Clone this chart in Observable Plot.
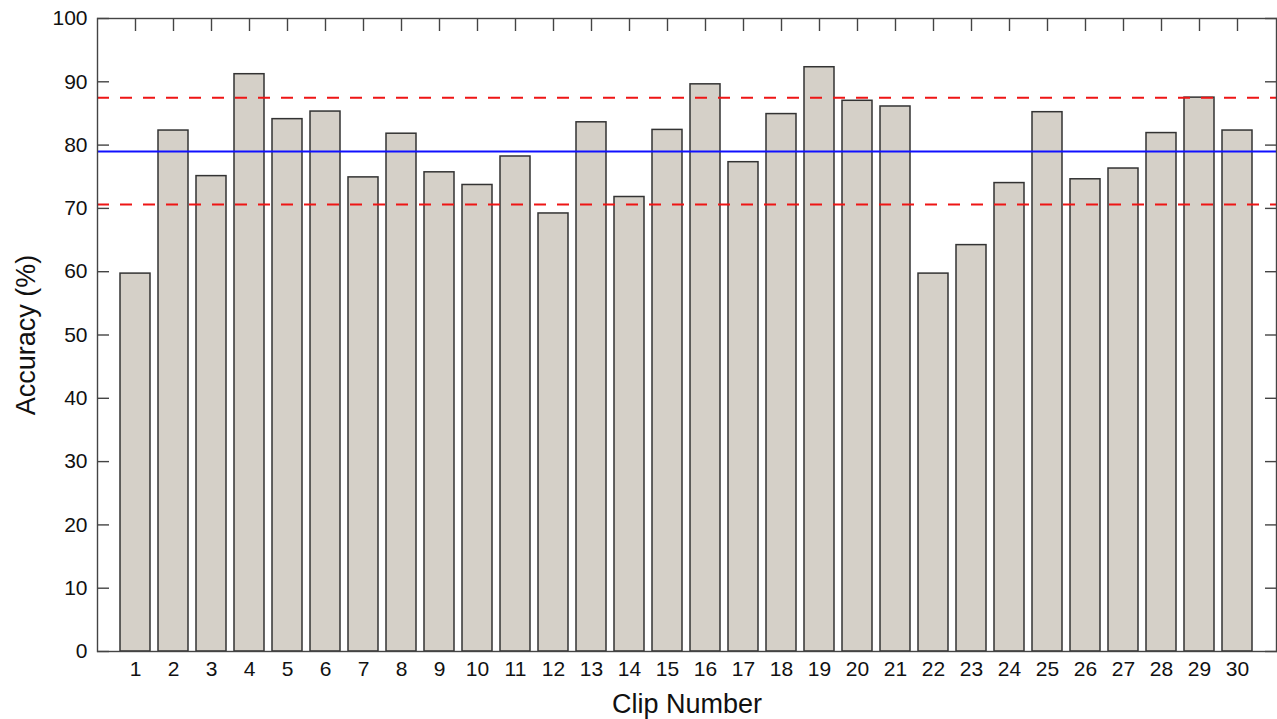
<!DOCTYPE html>
<html>
<head>
<meta charset="utf-8">
<script src="https://cdn.jsdelivr.net/npm/d3@7"></script>
<script src="https://cdn.jsdelivr.net/npm/@observablehq/plot@0.6"></script>
<style>
  html, body { margin: 0; padding: 0; background: #fff; }
  #chart { width: 1277px; height: 719px; }
  svg { font-family: "Liberation Sans", Arial, Helvetica, sans-serif; }
</style>
</head>
<body>
<div id="chart"></div>
<script>
const clips = d3.range(1, 31);
const accuracy = [59.7, 82.3, 75.1, 91.2, 84.1, 85.3, 74.9, 81.8, 75.7, 73.7,
                  78.2, 69.2, 83.6, 71.8, 82.4, 89.6, 77.3, 84.9, 92.3, 87.0,
                  86.1, 59.7, 64.2, 74.0, 85.2, 74.6, 76.3, 81.9, 87.5, 82.3];
const meanLine = [79.0];
const bandLines = [70.6, 87.5];
const yTicks = d3.range(0, 101, 10);

const data = clips.map((c, i) => ({clip: c, acc: accuracy[i]}));

const chart = Plot.plot({
  width: 1277,
  height: 719,
  marginLeft: 97,
  marginRight: 1,
  marginTop: 18,
  marginBottom: 68,
  style: {fontFamily: "Liberation Sans, Arial, Helvetica, sans-serif", fontSize: "21px", color: "#111", background: "#fff"},
  x: {type: "band", domain: clips, paddingInner: 0.21, paddingOuter: 0.605},
  y: {domain: [0, 100]},
  marks: [
    Plot.barY(data, {x: "clip", y: "acc", fill: "#d5d0c8", stroke: "#333", strokeWidth: 1.5}),
    Plot.ruleY(meanLine, {stroke: "#1010ff", strokeWidth: 2}),
    Plot.ruleY(bandLines, {stroke: "#ee1515", strokeWidth: 2, strokeDasharray: "12,11"}),
    Plot.frame({stroke: "#444", strokeWidth: 1.4}),
    Plot.axisY(yTicks, {anchor: "left", tickSize: -12, tickPadding: 22, stroke: "#444", strokeWidth: 1.4,
      fontSize: 21, label: "Accuracy (%)", labelAnchor: "center", labelArrow: "none", labelOffset: 82}),
    Plot.axisY(yTicks, {anchor: "right", tickSize: -12, tickFormat: () => "", stroke: "#444", strokeWidth: 1.4, label: null}),
    Plot.axisX({anchor: "top", tickSize: -12, tickFormat: () => "", stroke: "#444", strokeWidth: 1.4, label: null}),
    Plot.axisX({anchor: "bottom", tickSize: 0, tickPadding: 10, fontSize: 21,
      label: "Clip Number", labelAnchor: "center", labelArrow: "none", labelOffset: 61})
  ]
});
document.getElementById("chart").appendChild(chart);
// enlarge axis titles
chart.querySelectorAll("g[aria-label='y-axis label'] text, g[aria-label='x-axis label'] text").forEach(t => t.setAttribute("font-size", "27"));
</script>
</body>
</html>
